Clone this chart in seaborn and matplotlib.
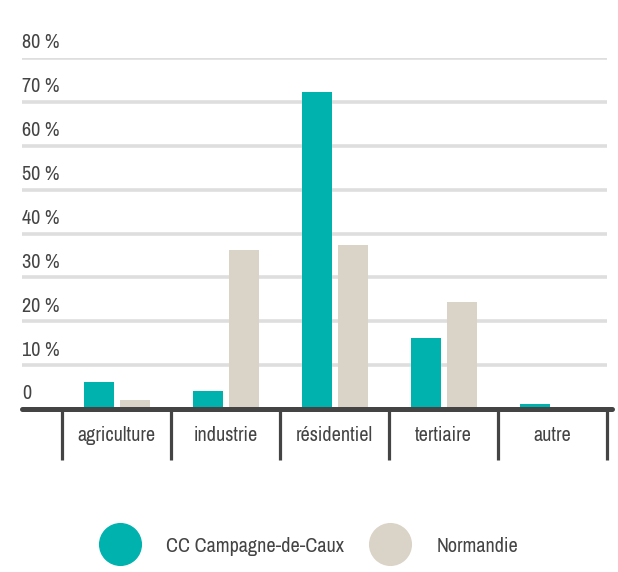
import numpy as np
import pandas as pd
import matplotlib
matplotlib.use('Agg')
import matplotlib.pyplot as plt
from matplotlib import font_manager
from matplotlib.lines import Line2D
import seaborn as sns

# data (% of energy consumption by sector)
secteurs = ['agriculture', 'industrie', 'résidentiel', 'tertiaire', 'autre']
cc_caux = [6.2, 4.1, 72.3, 16.2, 1.1]
normandie = [2.0, 36.3, 37.3, 24.4, 0.0]
territoires = ['CC Campagne-de-Caux', 'Normandie']
y_ticks = [0, 10, 20, 30, 40, 50, 60, 70, 80]

teal = '#00b2ae'
beige = '#dad3c7'
dark = '#444444'

df = pd.DataFrame({
    'secteur': secteurs * 2,
    'part': cc_caux + normandie,
    'territoire': [territoires[0]] * 5 + [territoires[1]] * 5,
})

sns.set_style('white')
# look for a condensed face, otherwise Roboto
names = sorted({f.name for f in font_manager.fontManager.ttflist})
narrow = [n for n in names if 'Narrow' in n or 'Condensed' in n]
plt.rcParams['font.family'] = narrow[:1] + ['Roboto', 'DejaVu Sans']
fs = 14.5 if narrow else 12

fig = plt.figure(figsize=(6.18, 5.72), dpi=100)
ax = fig.add_axes([22 / 618, 163 / 572, 590 / 618, 351 / 572])

sns.barplot(data=df, x='secteur', y='part', hue='territoire',
            palette=[teal, beige], saturation=1, width=0.66, gap=0.17,
            linewidth=0, legend=False, ax=ax, zorder=3)

ax.set_xlim(-0.87, 4.545)
ax.set_ylim(0, 80)

# grid lines with labels sitting above them
for v in y_ticks[1:]:
    ax.hlines(v, -0.87, 4.5, color='#dedede', lw=2.6, zorder=1)
for v in y_ticks:
    lab = '0' if v == 0 else f'{v} %'
    ax.annotate(lab, xy=(-0.87, v), xytext=(0, 4), textcoords='offset points',
                ha='left', va='bottom', fontsize=fs, color=dark,
                annotation_clip=False)

# baseline and category separators
ax.axhline(0, color=dark, lw=3.6, zorder=4, clip_on=False)
ax.vlines(np.arange(-0.5, 5, 1), -11.6, 0, color=dark, lw=2.3,
          clip_on=False, zorder=4)

for s in ax.spines.values():
    s.set_visible(False)
ax.set_yticks([])
ax.set_xlabel('')
ax.set_ylabel('')
ax.tick_params(axis='x', length=0, pad=12, labelsize=fs, labelcolor=dark)

handles = [Line2D([], [], marker='o', ls='', markersize=30, color=c)
           for c in [teal, beige]]
fig.legend(handles, territoires, loc='center', bbox_to_anchor=(0.5, 1 - 546 / 572),
           ncol=2, frameon=False, fontsize=fs, labelcolor=dark,
           handletextpad=1.3, columnspacing=1.3)

fig.savefig('out.png', dpi=100)
